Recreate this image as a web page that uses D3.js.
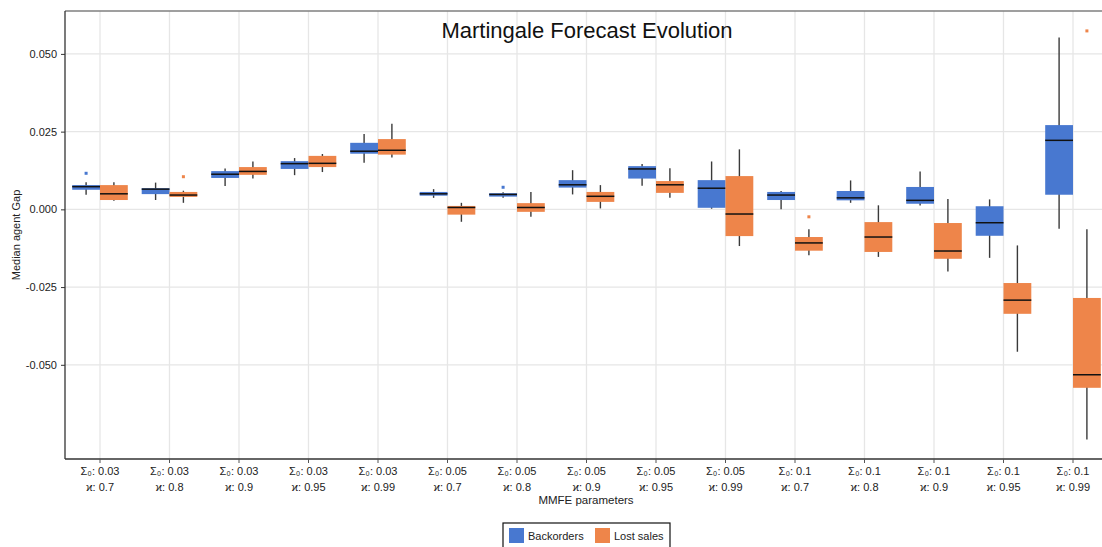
<!DOCTYPE html>
<html>
<head>
<meta charset="utf-8">
<script src="https://cdn.jsdelivr.net/npm/d3@7"></script>
<style>
  body { margin: 0; background: #fff; }
  svg { font-family: "Liberation Sans", Arial, sans-serif; }
</style>
</head>
<body>
<script>
const sigmas = ["0.03", "0.03", "0.03", "0.03", "0.03", "0.05", "0.05", "0.05", "0.05", "0.05", "0.1", "0.1", "0.1", "0.1", "0.1"];
const kappas = ["0.7", "0.8", "0.9", "0.95", "0.99", "0.7", "0.8", "0.9", "0.95", "0.99", "0.7", "0.8", "0.9", "0.95", "0.99"];
const seriesNames = ["Backorders", "Lost sales"];
const yTicks = [0.05, 0.025, 0, -0.025, -0.05];

// Backorders box stats
const boLow  = [0.0047, 0.0030, 0.0075, 0.0110, 0.0150, 0.0037, 0.0037, 0.0048, 0.0076, 0.0002, 0.0000, 0.0021, 0.0012, -0.0156, -0.0062];
const boQ1   = [0.0063, 0.0049, 0.0101, 0.0130, 0.0179, 0.0044, 0.0041, 0.0070, 0.0099, 0.0005, 0.0030, 0.0029, 0.0018, -0.0085, 0.0047];
const boMed  = [0.0073, 0.0065, 0.0113, 0.0147, 0.0187, 0.0050, 0.0048, 0.0079, 0.0130, 0.0068, 0.0046, 0.0037, 0.0029, -0.0043, 0.0222];
const boQ3   = [0.0078, 0.0068, 0.0123, 0.0155, 0.0214, 0.0056, 0.0052, 0.0094, 0.0139, 0.0094, 0.0056, 0.0059, 0.0072, 0.0010, 0.0271];
const boHigh = [0.0087, 0.0086, 0.0131, 0.0165, 0.0242, 0.0065, 0.0055, 0.0126, 0.0146, 0.0154, 0.0059, 0.0093, 0.0122, 0.0032, 0.0553];

// Lost sales box stats
const lsLow  = [0.0028, 0.0021, 0.0099, 0.0120, 0.0167, -0.0040, -0.0024, 0.0003, 0.0037, -0.0118, -0.0148, -0.0153, -0.0200, -0.0458, -0.0740];
const lsQ1   = [0.0030, 0.0040, 0.0111, 0.0136, 0.0176, -0.0017, -0.0008, 0.0024, 0.0053, -0.0086, -0.0133, -0.0137, -0.0159, -0.0336, -0.0574];
const lsMed  = [0.0050, 0.0046, 0.0122, 0.0148, 0.0190, 0.0006, 0.0006, 0.0042, 0.0079, -0.0015, -0.0108, -0.0089, -0.0134, -0.0292, -0.0532];
const lsQ3   = [0.0078, 0.0056, 0.0136, 0.0172, 0.0226, 0.0011, 0.0020, 0.0056, 0.0091, 0.0107, -0.0089, -0.0041, -0.0044, -0.0237, -0.0285];
const lsHigh = [0.0087, 0.0060, 0.0154, 0.0178, 0.0275, 0.0021, 0.0056, 0.0078, 0.0132, 0.0193, -0.0064, 0.0013, 0.0033, -0.0116, -0.0064];

// outliers: [category index, value]
const boOutliers = [[0, 0.0116], [6, 0.0071]];
const lsOutliers = [[1, 0.0105], [10, -0.0024], [14, 0.0574]];

const colors = ["#4878d0", "#ee854a"];

const W = 1102, H = 547;
const margin = { left: 65, top: 11, bottom: 459 };

const cats = sigmas.map((s, i) => i);

const svg = d3.select("body").append("svg")
  .attr("width", W)
  .attr("height", H);

const x = d3.scaleBand().domain(cats).range([65.25, 1107.75]).padding(0);
const bw = x.bandwidth();
const xs = d3.scaleBand().domain(seriesNames).range([bw * 0.1, bw * 0.9]);
const y = d3.scaleLinear().domain([-0.0803, 0.0638]).range([margin.bottom, margin.top]);

// grid
svg.append("g").selectAll("line")
  .data(yTicks).enter().append("line")
  .attr("x1", margin.left).attr("x2", W)
  .attr("y1", d => y(d)).attr("y2", d => y(d))
  .attr("stroke", "#e6e6e6").attr("stroke-width", 1.3);

svg.append("g").selectAll("line")
  .data(cats).enter().append("line")
  .attr("x1", d => x(d) + bw / 2).attr("x2", d => x(d) + bw / 2)
  .attr("y1", margin.top).attr("y2", margin.bottom)
  .attr("stroke", "#e6e6e6").attr("stroke-width", 1.3);

// title
svg.append("text")
  .attr("x", 587).attr("y", 38)
  .attr("text-anchor", "middle")
  .style("font-size", "22px")
  .attr("fill", "#111")
  .text("Martingale Forecast Evolution");

// boxes
const series = [
  { name: "Backorders", low: boLow, q1: boQ1, med: boMed, q3: boQ3, high: boHigh, out: boOutliers, color: colors[0] },
  { name: "Lost sales", low: lsLow, q1: lsQ1, med: lsMed, q3: lsQ3, high: lsHigh, out: lsOutliers, color: colors[1] }
];

series.forEach(s => {
  const g = svg.append("g");
  const cx = i => x(i) + xs(s.name) + xs.bandwidth() / 2;

  g.selectAll(".whisker").data(cats).enter().append("line")
    .attr("x1", cx).attr("x2", cx)
    .attr("y1", i => y(s.high[i])).attr("y2", i => y(s.low[i]))
    .attr("stroke", "#3a3a3a").attr("stroke-width", 1.4);

  g.selectAll(".box").data(cats).enter().append("rect")
    .attr("x", i => x(i) + xs(s.name))
    .attr("width", xs.bandwidth())
    .attr("y", i => y(s.q3[i]))
    .attr("height", i => y(s.q1[i]) - y(s.q3[i]))
    .attr("fill", s.color);

  g.selectAll(".median").data(cats).enter().append("line")
    .attr("x1", i => x(i) + xs(s.name)).attr("x2", i => x(i) + xs(s.name) + xs.bandwidth())
    .attr("y1", i => y(s.med[i])).attr("y2", i => y(s.med[i]))
    .attr("stroke", "#111").attr("stroke-width", 1.5);

  g.selectAll(".outlier").data(s.out).enter().append("rect")
    .attr("x", d => cx(d[0]) - 1.5).attr("y", d => y(d[1]) - 1.5)
    .attr("width", 3).attr("height", 3)
    .attr("fill", s.color);
});

// frame
svg.append("line").attr("x1", margin.left).attr("x2", W).attr("y1", margin.top).attr("y2", margin.top)
  .attr("stroke", "#7f7f7f").attr("stroke-width", 1.5);
svg.append("line").attr("x1", margin.left).attr("x2", margin.left).attr("y1", margin.top).attr("y2", margin.bottom)
  .attr("stroke", "#333").attr("stroke-width", 1.3);
svg.append("line").attr("x1", margin.left).attr("x2", W).attr("y1", margin.bottom).attr("y2", margin.bottom)
  .attr("stroke", "#333").attr("stroke-width", 1.3);

// y axis
const fmt = d3.format(".3f");
const yAxis = svg.append("g")
  .attr("transform", `translate(${margin.left},0)`)
  .call(d3.axisLeft(y).tickValues(yTicks).tickFormat(d => fmt(d).replace("\u2212", "-")).tickSize(4).tickPadding(4));
yAxis.select(".domain").remove();
yAxis.selectAll("line").attr("stroke", "#333");
yAxis.selectAll("text").style("font-size", "11px").attr("fill", "#222").style("font-family", "'Liberation Sans', Arial, sans-serif");

// x axis
const xAxis = svg.append("g")
  .attr("transform", `translate(0,${margin.bottom})`)
  .call(d3.axisBottom(x).tickSize(4).tickFormat(""));
xAxis.select(".domain").remove();
xAxis.selectAll("line").attr("stroke", "#555");
xAxis.selectAll(".tick").each(function (i) {
  const t = d3.select(this).append("text")
    .attr("text-anchor", "middle")
    .attr("fill", "#222")
    .style("font-size", "11px")
    .style("font-family", "'Liberation Sans', Arial, sans-serif");
  t.append("tspan").attr("x", 0).attr("y", 16).text("Σ₀: " + sigmas[i]);
  t.append("tspan").attr("x", 0).attr("y", 32).text("ϰ: " + kappas[i]);
});

// axis titles
svg.append("text")
  .attr("x", 586).attr("y", 504)
  .attr("text-anchor", "middle")
  .style("font-size", "11.5px").attr("fill", "#222")
  .text("MMFE parameters");

svg.append("text")
  .attr("transform", "translate(20,235) rotate(-90)")
  .attr("text-anchor", "middle")
  .style("font-size", "11px").attr("fill", "#222")
  .text("Median agent Gap");

// legend
const legend = svg.append("g").attr("transform", "translate(503,523)");
legend.append("rect")
  .attr("x", 0).attr("y", 0).attr("width", 167).attr("height", 30)
  .attr("fill", "#fff").attr("stroke", "#111").attr("stroke-width", 1.2);
const legendX = [6, 92];
seriesNames.forEach((n, i) => {
  legend.append("rect")
    .attr("x", legendX[i]).attr("y", 5).attr("width", 15).attr("height", 15)
    .attr("fill", colors[i]);
  legend.append("text")
    .attr("x", legendX[i] + 19).attr("y", 17)
    .style("font-size", "11px").attr("fill", "#222")
    .text(n);
});
</script>
</body>
</html>
